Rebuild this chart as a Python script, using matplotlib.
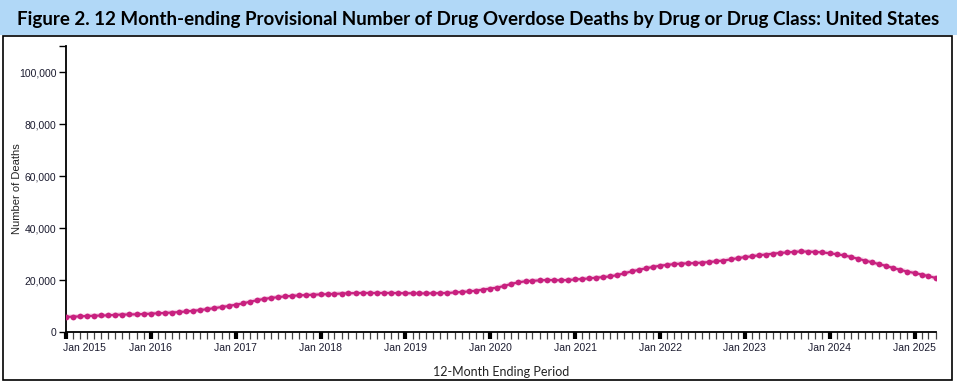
import matplotlib
matplotlib.use("Agg")
import matplotlib.dates as mdates
import matplotlib.pyplot as plt
import matplotlib.ticker as mticker
import numpy as np
import pandas as pd
from matplotlib.patches import Rectangle
from matplotlib.transforms import ScaledTranslation

# 12 month-ending provisional deaths, monthly from Jan 2015 (thousands)
start_month = "2015-01-01"
deaths_k = [
    5.8, 5.9, 6.0, 6.15, 6.25, 6.35, 6.4, 6.6, 6.7, 6.75, 6.8, 6.9,
    7.05, 7.2, 7.3, 7.5, 7.65, 7.9, 8.15, 8.45, 8.8, 9.2, 9.6, 10.0,
    10.5, 11.0, 11.6, 12.2, 12.7, 13.1, 13.4, 13.7, 13.9, 14.1, 14.2, 14.35,
    14.45, 14.55, 14.65, 14.8, 14.9, 14.95, 15.0, 15.0, 15.0, 15.0, 15.0, 14.95,
    14.9, 14.9, 14.85, 14.85, 14.9, 14.95, 15.0, 15.2, 15.4, 15.6, 15.9, 16.3,
    16.7, 17.1, 17.7, 18.5, 19.1, 19.5, 19.7, 19.85, 20.0, 19.95, 19.9, 20.0,
    20.2, 20.4, 20.6, 20.9, 21.1, 21.4, 21.9, 22.6, 23.3, 23.9, 24.5, 25.0,
    25.5, 25.8, 26.1, 26.3, 26.4, 26.5, 26.7, 26.9, 27.2, 27.5, 27.9, 28.4,
    28.8, 29.1, 29.5, 29.8, 30.1, 30.4, 30.6, 30.8, 31.0, 30.9, 30.8, 30.6,
    30.3, 29.9, 29.5, 28.9, 28.2, 27.5, 26.8, 26.1, 25.4, 24.6, 23.9, 23.2,
    22.7, 22.1, 21.5, 20.8,
]
y_ticks = [0, 20000, 40000, 60000, 80000, 100000, 110000]
title = "Figure 2. 12 Month-ending Provisional Number of Drug Overdose Deaths by Drug or Drug Class: United States"

months = pd.date_range(start_month, periods=len(deaths_k), freq="MS")
deaths = np.array(deaths_k) * 1000

line_color = "#c8217f"

fig = plt.figure(figsize=(9.57, 3.83), dpi=100)

# title banner and outer frame
fig.patches.append(Rectangle((0, 1 - 35 / 383), 1, 35 / 383, transform=fig.transFigure,
                             facecolor="#b1d8f7", edgecolor="none", zorder=0))
fig.patches.append(Rectangle((3 / 957, 3 / 383), 949 / 957, 344 / 383, transform=fig.transFigure,
                             facecolor="white", edgecolor="black", linewidth=1.2, zorder=1))
fig.text(0.5, 1 - 19 / 383, title, ha="center", va="center", fontsize=13.5,
         fontweight="bold", family="Lato", color="black")

ax = fig.add_axes([66 / 957, 1 - 332 / 383, 870 / 957, 286 / 383])
ax.set_zorder(2)
ax.patch.set_alpha(0)

# faint halo behind the main line, then the line with dots
ax.plot(months, deaths, color="#f6d3e7", linewidth=3.5, solid_capstyle="round", zorder=2)
ax.plot(months, deaths, color=line_color, linewidth=1.6, marker="o", markersize=4.2,
        markeredgewidth=0, zorder=3)

ax.set_ylim(0, 110000)
ax.set_xlim(months[0], months[-1] + pd.Timedelta(days=2))
ax.set_yticks(y_ticks)
ax.yaxis.set_major_formatter(mticker.FuncFormatter(
    lambda v, p: "" if v > 100000 else f"{int(v):,}"))

ax.xaxis.set_major_locator(mdates.YearLocator(month=1))
ax.xaxis.set_major_formatter(mdates.DateFormatter("Jan %Y"))
ax.xaxis.set_minor_locator(mdates.MonthLocator())

for side in ["top", "right"]:
    ax.spines[side].set_visible(False)
for side in ["left", "bottom"]:
    ax.spines[side].set_linewidth(1.3)

ax.tick_params(axis="y", length=5, width=1, labelsize=7.5, pad=2, labelcolor="#1b1b2f")
ax.tick_params(axis="x", which="major", length=5, width=3, labelsize=7.5, pad=3, labelcolor="#1b1b2f")
ax.tick_params(axis="x", which="minor", length=5, width=0.9, color="#444444")
for label in ax.get_yticklabels() + ax.get_xticklabels():
    label.set_family("Liberation Sans")

# first date label sits to the right of its tick, as in the original
fig.canvas.draw()
first = ax.get_xticklabels()[0]
first.set_horizontalalignment("left")
first.set_transform(first.get_transform() + ScaledTranslation(-3 / 100, 0, fig.dpi_scale_trans))

ax.set_ylabel("Number of Deaths", fontsize=8, family="Liberation Sans", color="#222222")
ax.yaxis.set_label_coords(-44 / 870, 0.5)
ax.set_xlabel("12-Month Ending Period", fontsize=9, family="Lato", color="#222222", labelpad=9)

fig.savefig("out.png", dpi=100)
